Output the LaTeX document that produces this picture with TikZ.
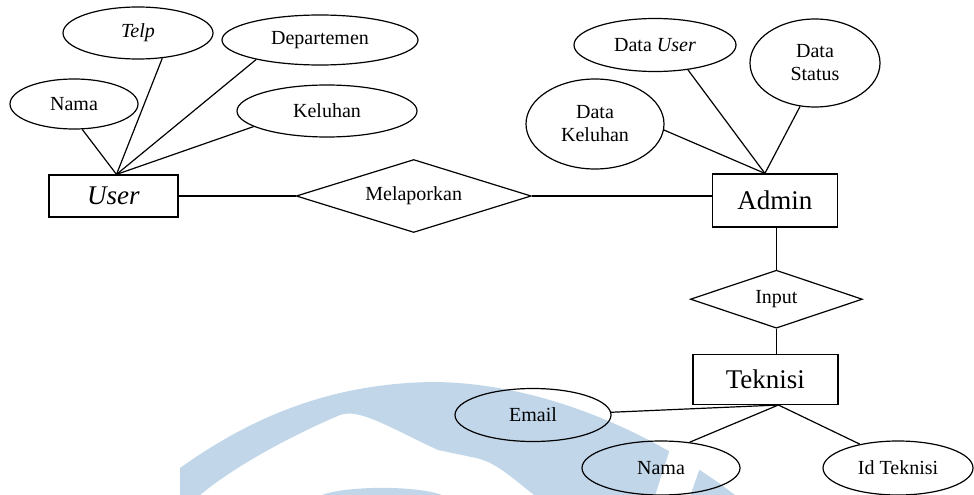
\documentclass[tikz,border=0pt]{standalone}
\usepackage{fontspec}
\setmainfont{Liberation Serif}
\usetikzlibrary{positioning}
\usetikzlibrary{shapes.geometric}
\definecolor{wmblue}{RGB}{193,214,233}

\begin{document}
\begin{tikzpicture}
        [x=1pt,y=-1pt,line width=1.2pt,
         entity/.style={draw,rectangle,inner sep=0pt,font=\fontsize{27}{30}\selectfont},
         relation/.style={draw,diamond,inner sep=0pt,aspect=3,font=\fontsize{20}{23}\selectfont},
         attr/.style={draw,ellipse,inner sep=0pt,align=center,font=\fontsize{20}{23}\selectfont}]
      \useasboundingbox (0,0) rectangle (974,495);
      % watermark in the back
      \fill[wmblue] (180,495) -- (180,468) .. controls (250,418) and (330,383) .. (434,382)
        .. controls (540,383) and (650,430) .. (735,495) -- (534,495)
        .. controls (510,476) and (495,462) .. (476,458) -- (438,450)
        .. controls (390,428) and (360,408) .. (340,415)
        .. controls (300,432) and (240,462) .. (200,495) -- cycle;
      \fill[white] (673,440) -- (703,459) -- (690,496) -- (655,496) -- cycle;
      \fill[wmblue] (322,495) .. controls (345,486) and (415,485) .. (442,495) -- cycle;
      % entities and relations
      \node[entity,minimum width=129pt,minimum height=42pt] (User) at (113.5,196) {\textit{User}};
      \node[relation,minimum width=235pt,minimum height=73pt] (Melaporkan) [right=117pt of User] {Melaporkan};
      \node[entity,minimum width=125pt,minimum height=53pt] (Admin) [right=180pt of Melaporkan,yshift=-4.5pt] {Admin};
      \node[relation,minimum width=172pt,minimum height=58pt] (Input) [below=42pt of Admin,xshift=1.5pt] {Input};
      \node[entity,minimum width=145pt,minimum height=50pt] (Teknisi) [below=25pt of Input,xshift=-11pt] {Teknisi};
      % attributes
      \node[attr,minimum width=128pt,minimum height=50pt] (NamaUser) at (74,104) {Nama};
      \node[attr,minimum width=150pt,minimum height=52pt] (Telp) at (138,33) {\textit{Telp}};
      \node[attr,minimum width=196pt,minimum height=50pt] (Departemen) at (320,40) {Departemen};
      \node[attr,minimum width=180pt,minimum height=52pt] (Keluhan) at (327,111) {Keluhan};
      \node[attr,minimum width=162pt,minimum height=53pt] (DataUser) at (655,45) {Data \textit{User}};
      \node[attr,minimum width=130pt,minimum height=88pt] (DataStatus) at (815,63) {Data\\Status};
      \node[attr,minimum width=138pt,minimum height=90pt] (DataKeluhan) at (595,124) {Data\\Keluhan};
      \node[attr,minimum width=156pt,minimum height=53pt] (Email) at (533,415) {Email};
      \node[attr,minimum width=158pt,minimum height=54pt] (NamaTeknisi) at (661,468) {Nama};
      \node[attr,minimum width=150pt,minimum height=54pt] (IdTeknisi) at (898,468) {Id Teknisi};
      % connectors
      \coordinate (UserTop) at ([xshift=3pt]User.north);
      \coordinate (AdminTop) at ([xshift=-10pt]Admin.north);
      \coordinate (TeknisiBottom) at ([xshift=13pt]Teknisi.south);
      \path (UserTop) edge (NamaUser.288) edge (Telp.314) edge (Departemen.197) edge (Keluhan.192);
      \path (AdminTop) edge (DataUser.323) edge (DataStatus.251) edge (DataKeluhan.355);
      \path (TeknisiBottom) edge (Email.2) edge (NamaTeknisi.42) edge (IdTeknisi.148);
      \path (User) edge (Melaporkan);
      \path (Melaporkan.east) edge (Melaporkan.east -| Admin.west);
      \path (Input.north) edge (Input.north |- Admin.south);
      \path (Input.south) edge (Input.south |- Teknisi.north);
\end{tikzpicture}
\end{document}
